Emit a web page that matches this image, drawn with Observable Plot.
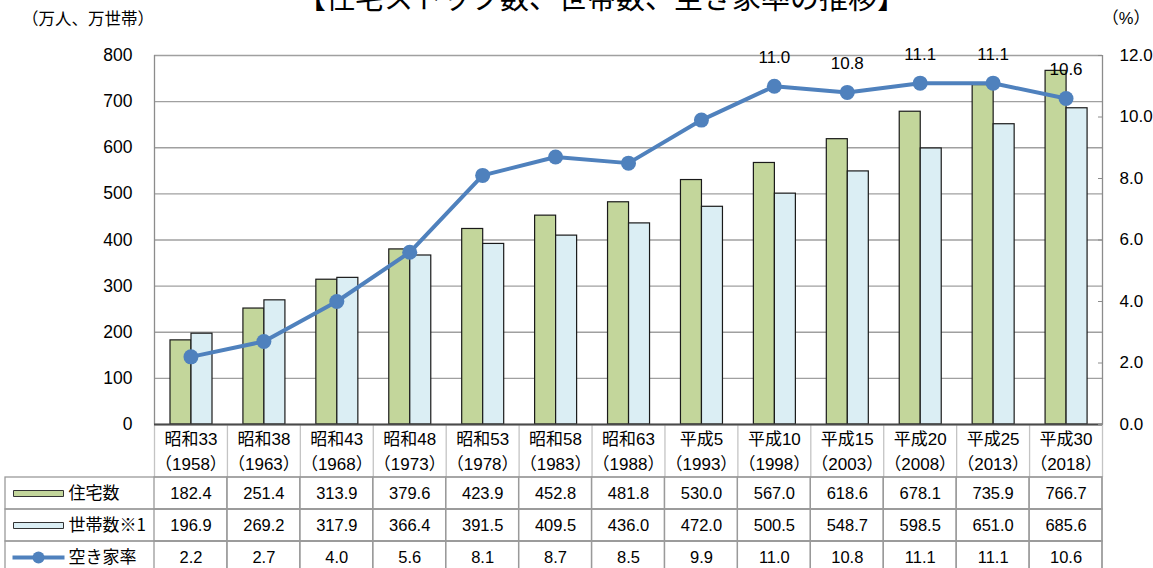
<!DOCTYPE html>
<html><head><meta charset="utf-8">
<script src="https://cdn.jsdelivr.net/npm/d3@7"></script>
<script src="https://cdn.jsdelivr.net/npm/@observablehq/plot@0.6"></script>
<style>
body{margin:0;background:#fff;}
#wrap{position:relative;width:1153px;height:568px;overflow:hidden;background:#fff;font-family:"Liberation Sans","Noto Sans CJK JP",sans-serif;color:#000;}
#title{position:absolute;left:297px;top:-18px;font-size:29px;line-height:1;font-family:"Noto Sans CJK JP";white-space:nowrap;letter-spacing:0px;}
#unitL{position:absolute;left:22px;top:10px;font-size:16.5px;line-height:1;font-family:"Noto Sans CJK JP";white-space:nowrap;}
#unitR{position:absolute;right:3px;top:10px;font-size:16.5px;line-height:1;font-family:"Liberation Sans","Noto Sans CJK JP";white-space:nowrap;}
#chart{position:absolute;left:0;top:0;}
#table{position:absolute;left:0;top:476px;}
</style></head><body>
<div id="wrap">
  <div id="title">【住宅ストック数、世帯数、空き家率の推移】</div>
  <div id="unitL">（万人、万世帯）</div>
  <div id="unitR">（%）</div>
  <div id="chart"></div>
  <div id="table"></div>
</div>
<script>
// ---- data ----
const eras = ["昭和33","昭和38","昭和43","昭和48","昭和53","昭和58","昭和63","平成5","平成10","平成15","平成20","平成25","平成30"];
const years = ["1958","1963","1968","1973","1978","1983","1988","1993","1998","2003","2008","2013","2018"];
const houses = [182.4,251.4,313.9,379.6,423.9,452.8,481.8,530.0,567.0,618.6,678.1,735.9,766.7];
const households = [196.9,269.2,317.9,366.4,391.5,409.5,436.0,472.0,500.5,548.7,598.5,651.0,685.6];
const vacancyRate = [2.2,2.7,4.0,5.6,8.1,8.7,8.5,9.9,11.0,10.8,11.1,11.1,10.6];
const leftTicks = [0,100,200,300,400,500,600,700,800];
const rightTicks = [0,2,4,6,8,10,12];
const seriesNames = ["住宅数","世帯数※1","空き家率"];
const labeledFrom = "平成10";

// ---- layout ----
const W = 1153, ML = 154, MR = 51, MT = 55, MB = 53, H = 477;
const BW = (W - ML - MR) / eras.length;
const LEFT_MAX = 800, RIGHT_MAX = 12, k = LEFT_MAX / RIGHT_MAX;
const font = "'Liberation Sans','Noto Sans CJK JP',sans-serif";
const green = "#c3d69b", blue = "#dbeef4", lineC = "#4f81bd";

const rows = eras.map((e, i) => ({era: e, year: years[i], house: houses[i], hh: households[i], rate: vacancyRate[i]}));
const labelStart = eras.indexOf(labeledFrom);

const chart = Plot.plot({
  width: W, height: H, marginLeft: ML, marginRight: MR, marginTop: MT, marginBottom: MB,
  style: {fontFamily: font, fontSize: "17px", color: "#000", background: "transparent", overflow: "visible"},
  x: {type: "band", domain: eras, padding: 0, round: false, label: null},
  y: {domain: [0, LEFT_MAX], label: null},
  marks: [
    Plot.ruleY(leftTicks, {stroke: "#a0a0a0", strokeWidth: 1.3}),
    Plot.ruleX([eras[0]], {x: d => d, dx: -BW / 2, stroke: "#8c8c8c", strokeWidth: 1.3}),
    Plot.ruleX([eras[eras.length - 1]], {x: d => d, dx: BW / 2, stroke: "#8c8c8c", strokeWidth: 1.3}),
    // header row separators
    Plot.ruleX(eras, {x: d => d, dx: -BW / 2, insetTop: H - MT - MB, insetBottom: -MB, stroke: "#c4c4c4", strokeWidth: 1.3}),
    Plot.ruleX([eras[eras.length - 1]], {x: d => d, dx: BW / 2, insetTop: H - MT - MB, insetBottom: -MB, stroke: "#c4c4c4", strokeWidth: 1.3}),
    Plot.barY(rows, {x: "era", y: "house", fill: green, stroke: "#1a1a1a", strokeWidth: 1.2, insetLeft: 16, insetRight: BW - 37}),
    Plot.barY(rows, {x: "era", y: "hh", fill: blue, stroke: "#1a1a1a", strokeWidth: 1.2, insetLeft: 37, insetRight: BW - 58}),
    Plot.ruleY([0], {stroke: "#4a4a4a", strokeWidth: 2}),
    Plot.line(rows, {x: "era", y: d => d.rate * k, stroke: lineC, strokeWidth: 4}),
    Plot.dot(rows, {x: "era", y: d => d.rate * k, r: 7.5, fill: lineC}),
    Plot.text(rows.slice(labelStart), {x: "era", y: d => d.rate * k, text: d => d.rate.toFixed(1), dy: -29, fontSize: 17}),
    Plot.axisY(leftTicks, {anchor: "left", tickSize: 0, tickPadding: 22, fontSize: 17.5, label: null}),
    Plot.axisY(rightTicks.map(v => v * k), {anchor: "right", tickSize: 5, dx: -5, tickPadding: 17, stroke: "#8c8c8c", fontSize: 17, label: null, tickFormat: v => (v / k).toFixed(1)}),
    Plot.axisX({anchor: "bottom", tickSize: 0, tickPadding: 3, fontSize: 17, lineHeight: 1.45, label: null,
      tickFormat: e => e + "\n（" + years[eras.indexOf(e)] + "）"})
  ]
});
document.getElementById("chart").appendChild(chart);

// ---- table ----
const values = [houses, households, vacancyRate];
const cells = [];
seriesNames.forEach((s, j) => eras.forEach((e, i) => cells.push({row: s, era: e, v: values[j][i]})));

const rectSym = {draw(ctx) { ctx.rect(-25, -3, 50, 6); }};
const lineSym = {draw(ctx) { ctx.moveTo(-26, 0); ctx.lineTo(26, 0); }};
const LEG_X = 38;

const table = Plot.plot({
  width: W, height: 97, marginLeft: ML, marginRight: MR, marginTop: 1, marginBottom: 0,
  style: {fontFamily: font, fontSize: "16px", color: "#000", background: "transparent", overflow: "visible"},
  x: {type: "band", domain: eras, padding: 0, round: false, axis: null},
  y: {type: "band", domain: seriesNames, padding: 0, round: false, axis: null},
  marks: [
    Plot.cell(seriesNames, {y: d => d, fill: "none", stroke: "#9a9a9a", strokeWidth: 1.3, insetLeft: -(ML - 5)}),
    Plot.cell(cells, {x: "era", y: "row", fill: "none", stroke: "#9a9a9a", strokeWidth: 1.3}),
    Plot.text(cells, {x: "era", y: "row", text: d => d.v.toFixed(1), fontSize: 16.5}),
    Plot.text(seriesNames, {y: d => d, frameAnchor: "left", dx: -(ML - 68), textAnchor: "start", fontSize: 17, fontFamily: "'Noto Sans CJK JP'"}),
    Plot.dot([seriesNames[0]], {y: d => d, frameAnchor: "left", dx: -(ML - LEG_X), symbol: rectSym, fill: green, stroke: "#333", strokeWidth: 1}),
    Plot.dot([seriesNames[1]], {y: d => d, frameAnchor: "left", dx: -(ML - LEG_X), symbol: rectSym, fill: blue, stroke: "#333", strokeWidth: 1}),
    Plot.dot([seriesNames[2]], {y: d => d, frameAnchor: "left", dx: -(ML - LEG_X), symbol: lineSym, fill: "none", stroke: lineC, strokeWidth: 4}),
    Plot.dot([seriesNames[2]], {y: d => d, frameAnchor: "left", dx: -(ML - LEG_X), r: 6, fill: lineC})
  ]
});
document.getElementById("table").appendChild(table);
</script>
</body></html>
